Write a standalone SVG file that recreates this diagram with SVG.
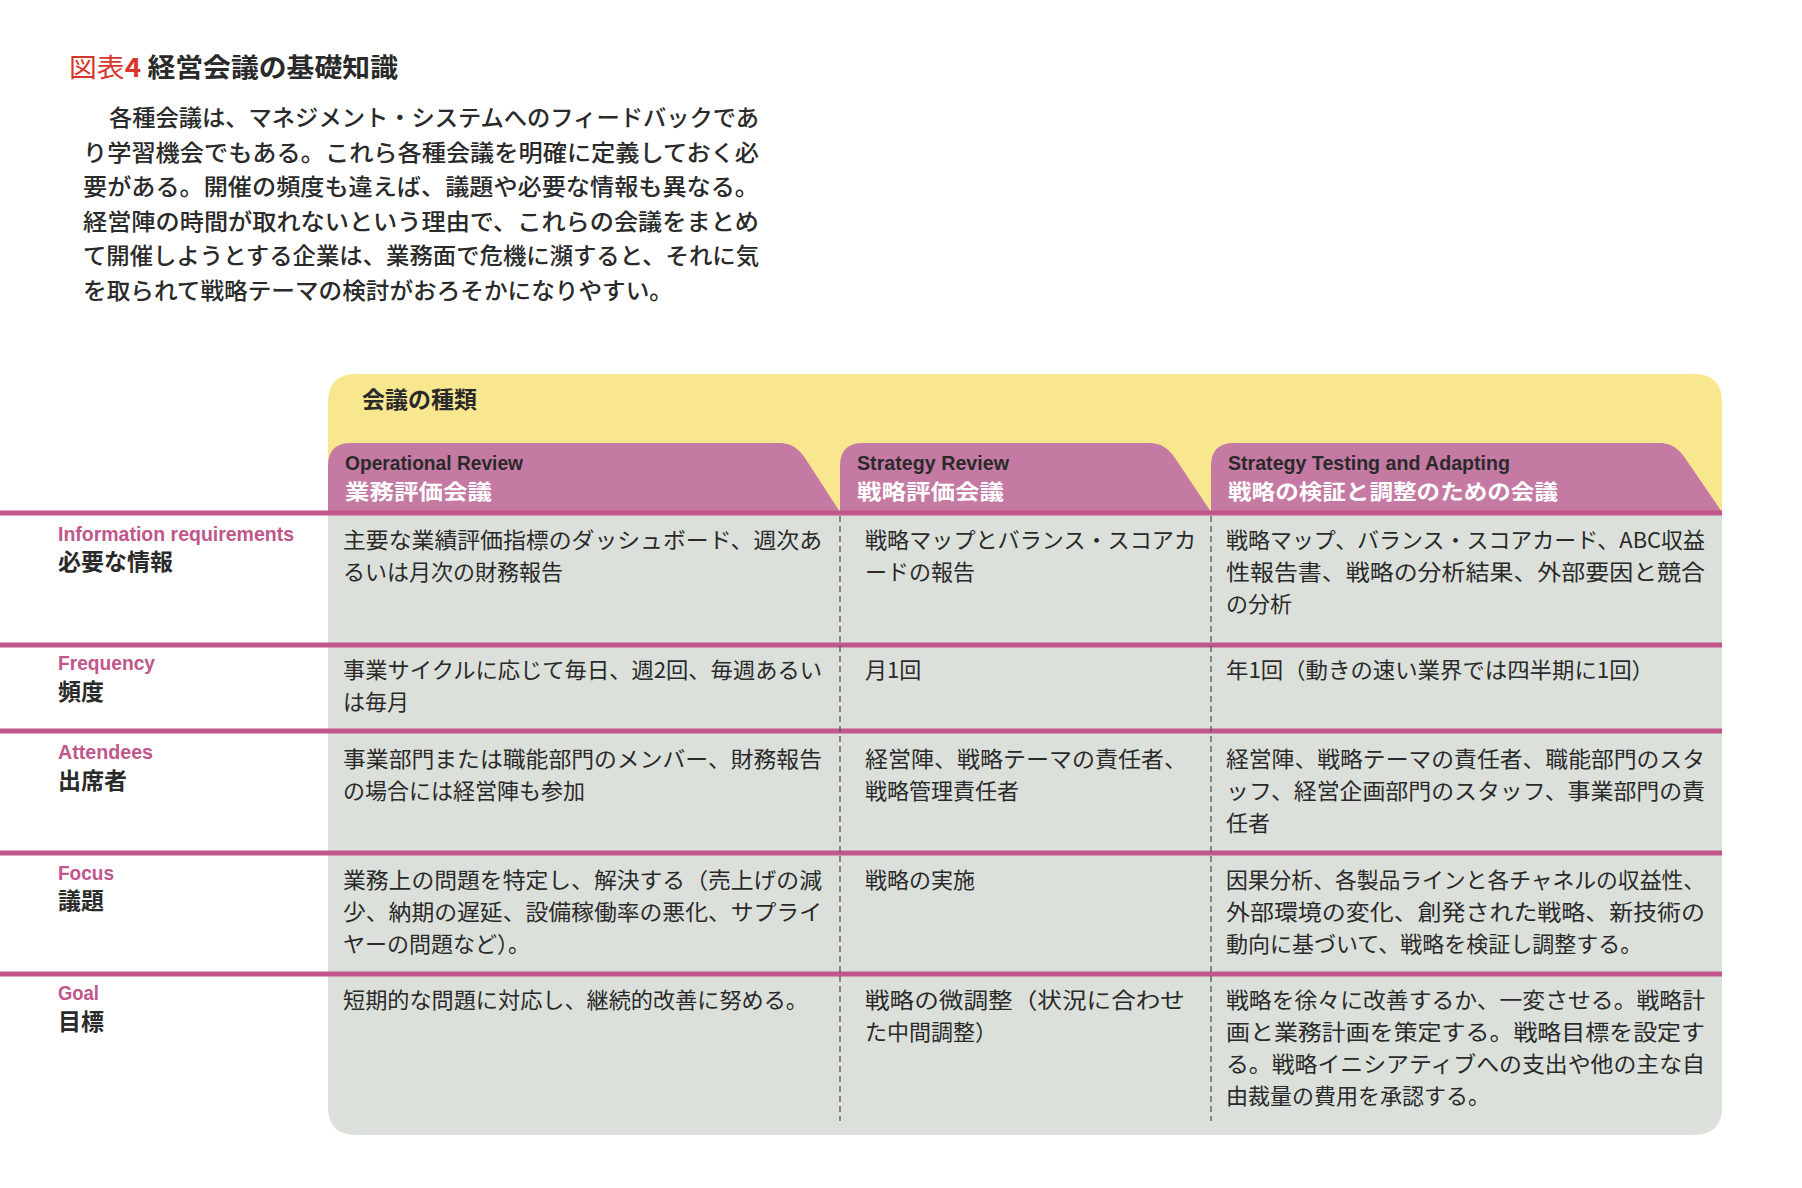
<svg xmlns="http://www.w3.org/2000/svg" width="1802" height="1188" viewBox="0 0 1802 1188">
<style>
text{font-family:"Noto Sans CJK JP","Noto Sans",sans-serif;fill:#2a2a2a}
.body{font-size:23px;font-weight:500}
.cell{font-size:22px}
.en{font-family:"Liberation Sans","Noto Sans CJK JP",sans-serif;font-size:21px;font-weight:bold}
.hdj{font-size:21px;font-weight:bold;fill:#fff}
.lbe{fill:#c0568a}
.lbj{font-size:23px;font-weight:bold}
.sep{stroke:#c0568a;stroke-width:5}
.dash{stroke:#555;stroke-width:1.3;stroke-dasharray:6 4}
.tab{fill:#c47aa3}
</style>
<g id="title">
<text x="69" y="77" font-size="26" textLength="329" lengthAdjust="spacingAndGlyphs"><tspan fill="#d9362b">図表</tspan><tspan fill="#d9362b" font-weight="bold">4</tspan><tspan font-weight="bold"> 経営会議の基礎知識</tspan></text>
</g>
<g id="intro" class="body">
<text class="body" x="109" y="126" textLength="650" lengthAdjust="spacingAndGlyphs">各種会議は、マネジメント・システムへのフィードバックであ</text>
<text class="body" x="83" y="161" textLength="676" lengthAdjust="spacingAndGlyphs">り学習機会でもある。これら各種会議を明確に定義しておく必</text>
<text class="body" x="83" y="195" textLength="676" lengthAdjust="spacingAndGlyphs">要がある。開催の頻度も違えば、議題や必要な情報も異なる。</text>
<text class="body" x="83" y="230" textLength="676" lengthAdjust="spacingAndGlyphs">経営陣の時間が取れないという理由で、これらの会議をまとめ</text>
<text class="body" x="83" y="264" textLength="676" lengthAdjust="spacingAndGlyphs">て開催しようとする企業は、業務面で危機に瀕すると、それに気</text>
<text class="body" x="83" y="299" textLength="590" lengthAdjust="spacingAndGlyphs">を取られて戦略テーマの検討がおろそかになりやすい。</text>
</g>
<g id="table-bg">
<path d="M328 512 V402 Q328 374 356 374 H1694 Q1722 374 1722 402 V512 Z" fill="#f9e78f"/>
<path d="M328 512 H1722 V1107 Q1722 1135 1694 1135 H356 Q328 1135 328 1107 Z" fill="#dce0da"/>
<text x="362" y="408" font-size="23" font-weight="bold">会議の種類</text>
</g>
<g id="header-operational">
<path class="tab" d="M328 512 V466 Q328 443 351 443 H780 Q795 443 805 458 L840 512 Z"/>
<text class="en" x="345" y="470" textLength="178" lengthAdjust="spacingAndGlyphs">Operational Review</text>
<text class="hdj" x="345" y="499" textLength="147" lengthAdjust="spacingAndGlyphs">業務評価会議</text>
</g>
<g id="header-strategy">
<path class="tab" d="M840 512 V466 Q840 443 863 443 H1150 Q1165 443 1175 458 L1211 512 Z"/>
<text class="en" x="857" y="470" textLength="152" lengthAdjust="spacingAndGlyphs">Strategy Review</text>
<text class="hdj" x="857" y="499" textLength="147" lengthAdjust="spacingAndGlyphs">戦略評価会議</text>
</g>
<g id="header-testing">
<path class="tab" d="M1211 512 V466 Q1211 443 1234 443 H1660 Q1675 443 1685 458 L1722 512 Z"/>
<text class="en" x="1228" y="470" textLength="282" lengthAdjust="spacingAndGlyphs">Strategy Testing and Adapting</text>
<text class="hdj" x="1228" y="499" textLength="330" lengthAdjust="spacingAndGlyphs">戦略の検証と調整のための会議</text>
</g>
<g id="connectors">
<line class="sep" x1="0" y1="513" x2="1722" y2="513"/>
<line class="sep" x1="0" y1="645" x2="1722" y2="645"/>
<line class="sep" x1="0" y1="731" x2="1722" y2="731"/>
<line class="sep" x1="0" y1="853" x2="1722" y2="853"/>
<line class="sep" x1="0" y1="974" x2="1722" y2="974"/>
<line class="dash" x1="840" y1="516" x2="840" y2="1121"/>
<line class="dash" x1="1211" y1="516" x2="1211" y2="1121"/>
</g>
<g id="row-info">
<text class="en lbe" x="58" y="541" textLength="236" lengthAdjust="spacingAndGlyphs">Information requirements</text>
<text class="lbj" x="58" y="570">必要な情報</text>
<text class="cell" x="343" y="548" textLength="479" lengthAdjust="spacingAndGlyphs">主要な業績評価指標のダッシュボード、週次あ</text>
<text class="cell" x="343" y="580">るいは月次の財務報告</text>
<text class="cell" x="865" y="548" textLength="331" lengthAdjust="spacingAndGlyphs">戦略マップとバランス・スコアカ</text>
<text class="cell" x="865" y="580">ードの報告</text>
<text class="cell" x="1226" y="548" textLength="479" lengthAdjust="spacingAndGlyphs">戦略マップ、バランス・スコアカード、ABC収益</text>
<text class="cell" x="1226" y="580" textLength="479" lengthAdjust="spacingAndGlyphs">性報告書、戦略の分析結果、外部要因と競合</text>
<text class="cell" x="1226" y="612">の分析</text>
</g>
<g id="row-frequency">
<text class="en lbe" x="58" y="670" textLength="97" lengthAdjust="spacingAndGlyphs">Frequency</text>
<text class="lbj" x="58" y="700">頻度</text>
<text class="cell" x="343" y="678" textLength="479" lengthAdjust="spacingAndGlyphs">事業サイクルに応じて毎日、週2回、毎週あるい</text>
<text class="cell" x="343" y="710">は毎月</text>
<text class="cell" x="865" y="678">月1回</text>
<text class="cell" x="1226" y="678" textLength="428" lengthAdjust="spacingAndGlyphs">年1回（動きの速い業界では四半期に1回）</text>
</g>
<g id="row-attendees">
<text class="en lbe" x="58" y="759" textLength="95" lengthAdjust="spacingAndGlyphs">Attendees</text>
<text class="lbj" x="58" y="789">出席者</text>
<text class="cell" x="343" y="767" textLength="479" lengthAdjust="spacingAndGlyphs">事業部門または職能部門のメンバー、財務報告</text>
<text class="cell" x="343" y="799">の場合には経営陣も参加</text>
<text class="cell" x="865" y="767" textLength="322" lengthAdjust="spacingAndGlyphs">経営陣、戦略テーマの責任者、</text>
<text class="cell" x="865" y="799">戦略管理責任者</text>
<text class="cell" x="1226" y="767" textLength="479" lengthAdjust="spacingAndGlyphs">経営陣、戦略テーマの責任者、職能部門のスタ</text>
<text class="cell" x="1226" y="799" textLength="479" lengthAdjust="spacingAndGlyphs">ッフ、経営企画部門のスタッフ、事業部門の責</text>
<text class="cell" x="1226" y="831">任者</text>
</g>
<g id="row-focus">
<text class="en lbe" x="58" y="880" textLength="56" lengthAdjust="spacingAndGlyphs">Focus</text>
<text class="lbj" x="58" y="909">議題</text>
<text class="cell" x="343" y="888" textLength="479" lengthAdjust="spacingAndGlyphs">業務上の問題を特定し、解決する（売上げの減</text>
<text class="cell" x="343" y="920" textLength="479" lengthAdjust="spacingAndGlyphs">少、納期の遅延、設備稼働率の悪化、サプライ</text>
<text class="cell" x="343" y="952">ヤーの問題など）。</text>
<text class="cell" x="865" y="888">戦略の実施</text>
<text class="cell" x="1226" y="888" textLength="479" lengthAdjust="spacingAndGlyphs">因果分析、各製品ラインと各チャネルの収益性、</text>
<text class="cell" x="1226" y="920" textLength="479" lengthAdjust="spacingAndGlyphs">外部環境の変化、創発された戦略、新技術の</text>
<text class="cell" x="1226" y="952">動向に基づいて、戦略を検証し調整する。</text>
</g>
<g id="row-goal">
<text class="en lbe" x="58" y="1000" textLength="41" lengthAdjust="spacingAndGlyphs">Goal</text>
<text class="lbj" x="58" y="1030">目標</text>
<text class="cell" x="343" y="1008" textLength="465" lengthAdjust="spacingAndGlyphs">短期的な問題に対応し、継続的改善に努める。</text>
<text class="cell" x="865" y="1008" textLength="320" lengthAdjust="spacingAndGlyphs">戦略の微調整（状況に合わせ</text>
<text class="cell" x="865" y="1040">た中間調整）</text>
<text class="cell" x="1226" y="1008" textLength="479" lengthAdjust="spacingAndGlyphs">戦略を徐々に改善するか、一変させる。戦略計</text>
<text class="cell" x="1226" y="1040" textLength="479" lengthAdjust="spacingAndGlyphs">画と業務計画を策定する。戦略目標を設定す</text>
<text class="cell" x="1226" y="1072" textLength="479" lengthAdjust="spacingAndGlyphs">る。戦略イニシアティブへの支出や他の主な自</text>
<text class="cell" x="1226" y="1104">由裁量の費用を承認する。</text>
</g>
</svg>
